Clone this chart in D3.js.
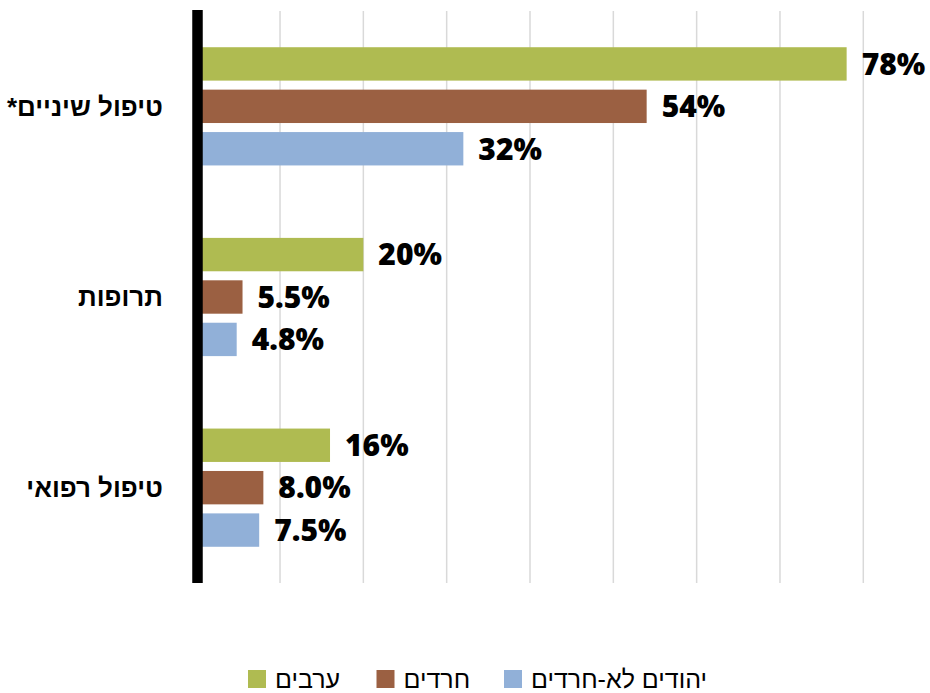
<!DOCTYPE html>
<html>
<head>
<meta charset="utf-8">
<script src="https://cdn.jsdelivr.net/npm/d3@7"></script>
<style>
  body { margin: 0; background: #fff; }
  svg { display: block; }
</style>
</head>
<body>
<script>
// categories top to bottom
var categories = ["טיפול שיניים*", "תרופות", "טיפול רפואי"];
var seriesNames = ["ערבים", "חרדים", "יהודים לא-חרדים"];
var seriesColors = ["#afbb51", "#9b6042", "#91b0d8"];
// values in percent, one array per series, same order as categories
var arabsValues = [78, 20, 16];
var haredimValues = [54, 5.5, 8.0];
var jewsValues = [32, 4.8, 7.5];
var gridTicks = [10, 20, 30, 40, 50, 60, 70, 80];

var width = 930, height = 693;
var svg = d3.select("body").append("svg")
    .attr("width", width)
    .attr("height", height);

var x = d3.scaleLinear().domain([0, 80]).range([196.7, 863.3]);
var y = d3.scaleBand().domain(categories).range([11, 583])
    .paddingInner(0.38).paddingOuter(0.19);
var ySeries = d3.scaleBand().domain(seriesNames).range([0, y.bandwidth()])
    .paddingInner(0.213);

var rows = [];
var allValues = [arabsValues, haredimValues, jewsValues];
categories.forEach(function(c, i) {
    seriesNames.forEach(function(s, j) {
        rows.push({cat: c, series: s, value: allValues[j][i], color: seriesColors[j]});
    });
});

//Gridlines
svg.append("g")
    .selectAll("line")
    .data(gridTicks)
    .enter().append("line")
    .attr("x1", function(d) { return x(d); })
    .attr("x2", function(d) { return x(d); })
    .attr("y1", 11)
    .attr("y2", 583)
    .style("stroke", "#d9d9d9")
    .style("stroke-width", "1.5px");

//Bars
svg.append("g")
    .selectAll("rect")
    .data(rows)
    .enter().append("rect")
    .attr("x", x(0))
    .attr("y", function(d) { return y(d.cat) + ySeries(d.series); })
    .attr("width", function(d) { return x(d.value) - x(0); })
    .attr("height", ySeries.bandwidth())
    .style("fill", function(d) { return d.color; });

//Value labels
var fmt = function(v) { return (v < 10 ? v.toFixed(1) : v.toFixed(0)) + "%"; };
svg.append("g")
    .selectAll("text")
    .data(rows)
    .enter().append("text")
    .attr("x", function(d) { return x(d.value) + 15; })
    .attr("y", function(d) { return y(d.cat) + ySeries(d.series) + ySeries.bandwidth() / 2; })
    .attr("dy", "0.36em")
    .style("font-family", "'Open Sans', sans-serif")
    .style("font-weight", "800")
    .style("font-size", "30px")
    .style("fill", "#000")
    .text(function(d) { return fmt(d.value); });

//Black axis line
svg.append("line")
    .attr("x1", 197.5).attr("x2", 197.5)
    .attr("y1", 10).attr("y2", 583)
    .style("stroke", "#000")
    .style("stroke-width", "10.5px");

//Category labels
svg.append("g")
    .selectAll("text")
    .data(categories)
    .enter().append("text")
    .attr("x", 163)
    .attr("y", function(d) { return y(d) + y.bandwidth() / 2; })
    .attr("dy", "0.36em")
    .attr("direction", "rtl")
    .attr("text-anchor", "start")
    .style("font-family", "'Liberation Sans', Arial, sans-serif")
    .style("font-weight", "bold")
    .style("font-size", "26px")
    .text(function(d) { return d; });

//Legend
var legendX = [248, 376.5, 504];
var legend = svg.append("g")
    .selectAll("g")
    .data(seriesNames)
    .enter().append("g")
    .attr("transform", function(d, i) { return "translate(" + legendX[i] + ",670)"; });

legend.append("rect")
    .attr("width", 18).attr("height", 18)
    .style("fill", function(d, i) { return seriesColors[i]; });

legend.append("text")
    .attr("x", 27)
    .attr("y", 9)
    .attr("dy", "0.36em")
    .attr("direction", "rtl")
    .attr("text-anchor", "end")
    .style("font-family", "'Liberation Sans', Arial, sans-serif")
    .style("font-size", "25px")
    .style("fill", "#000")
    .text(function(d) { return d; });
</script>
</body>
</html>
